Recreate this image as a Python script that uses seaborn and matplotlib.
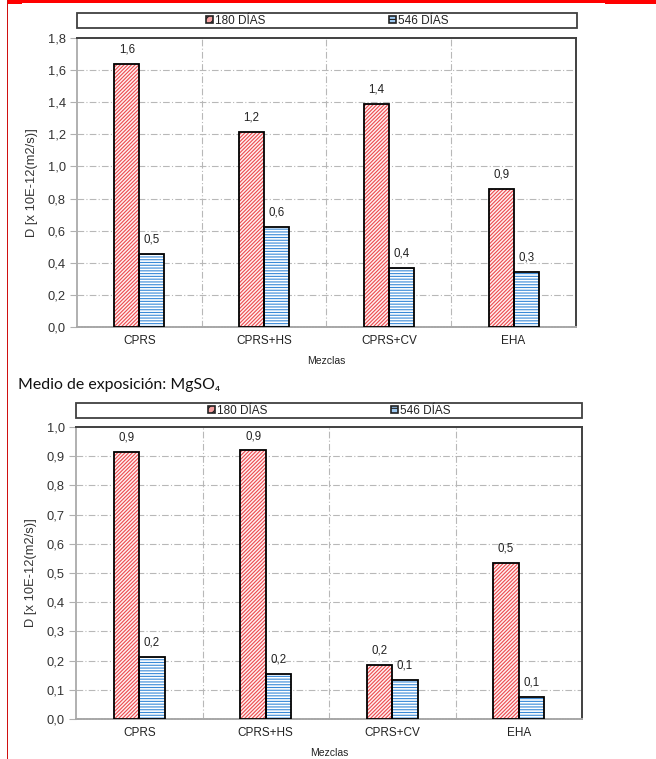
import numpy as np
import pandas as pd
import seaborn as sns
import matplotlib
matplotlib.use("Agg")
import matplotlib.pyplot as plt
from matplotlib.patches import Rectangle, Patch

# ---------------- data ----------------
mezclas = ["CPRS", "CPRS+HS", "CPRS+CV", "EHA"]
series = ["180 DÍAS", "546 DÍAS"]
top_180 = [1.64, 1.215, 1.39, 0.86]
top_546 = [0.455, 0.625, 0.37, 0.345]
bot_180 = [0.915, 0.92, 0.185, 0.535]
bot_546 = [0.212, 0.154, 0.134, 0.076]
top_yticks = [0.0, 0.2, 0.4, 0.6, 0.8, 1.0, 1.2, 1.4, 1.6, 1.8]
bot_yticks = [0.0, 0.1, 0.2, 0.3, 0.4, 0.5, 0.6, 0.7, 0.8, 0.9, 1.0]
ylabel = "D [x 10E-12(m2/s)]"
xlabel = "Mezclas"
subtitle = "Medio de exposición: MgSO₄"

sns.set_theme(style="white")
plt.rcParams["font.family"] = ["Liberation Sans", "DejaVu Sans"]
plt.rcParams["hatch.linewidth"] = 0.8

RED = "#ec4a4e"
BLUE = "#3a8ad8"
FACE = {"180 DÍAS": "#fff0f0", "546 DÍAS": "white"}
hatches = {"180 DÍAS": "/////////", "546 DÍAS": "------"}
hcolors = {"180 DÍAS": RED, "546 DÍAS": BLUE}

fig = plt.figure(figsize=(6.56, 7.59), dpi=100)
W, H = 656, 759


def ax_rect(x0, x1, ytop, ybot):
    return [x0 / W, (H - ybot) / H, (x1 - x0) / W, (ybot - ytop) / H]


def fmt(v):
    return f"{v:.1f}".replace(".", ",")


def draw(ax, v180, v546, yticks, legend_box):
    df = pd.DataFrame({
        "Mezclas": mezclas * 2,
        "Serie": [series[0]] * 4 + [series[1]] * 4,
        "D": list(v180) + list(v546),
    })
    sns.barplot(data=df, x="Mezclas", y="D", hue="Serie", order=mezclas,
                hue_order=series, width=0.4, ax=ax, legend=False,
                palette=["white", "white"], saturation=1, zorder=3)
    for cont, s in zip(ax.containers, series):
        for p in cont:
            p.set_facecolor(FACE[s])
            p.set_hatch(hatches[s])
            p.set_edgecolor(hcolors[s])
            p.set_linewidth(0)
            outline = Rectangle(p.get_xy(), p.get_width(), p.get_height(),
                                facecolor="none", edgecolor="black",
                                linewidth=1.3, zorder=4)
            ax.add_patch(outline)
        ax.bar_label(cont, labels=[fmt(v) for v in cont.datavalues],
                     padding=6, fontsize=8.3, color="#222222")
    ax.set_ylim(yticks[0], yticks[-1])
    ax.set_yticks(yticks)
    ax.set_yticklabels([fmt(t) for t in yticks])
    ax.set_xlim(-0.5, 3.5)
    ax.set_xlabel(xlabel, fontsize=7.5, color="#222222", labelpad=6)
    ax.set_ylabel(ylabel, fontsize=9.3, color="#333333", labelpad=7)
    ax.tick_params(axis="y", length=5, width=0.8, color="#b0b0b0",
                   labelsize=9.3, labelcolor="#333333", pad=3, left=True)
    ax.tick_params(axis="x", length=0, labelsize=8.5, labelcolor="#222222", pad=6)
    for t in yticks[1:-1]:
        ax.axhline(t, color="#b8b8b8", lw=0.8, ls=(0, (6, 2, 1, 2)), zorder=1)
    for xb in [0.5, 1.5, 2.5]:
        ax.axvline(xb, color="#b8b8b8", lw=0.8, ls=(0, (6, 2, 1, 2)), zorder=1)
    ax.spines["left"].set_color("#b0b0b0")
    ax.spines["left"].set_linewidth(1.4)
    ax.spines["bottom"].set_color("#a8a8a8")
    ax.spines["bottom"].set_linewidth(1.4)
    ax.spines["bottom"].set_linestyle((0, (1, 0.5)))
    for sp in ["top", "right"]:
        ax.spines[sp].set_color("#404040")
        ax.spines[sp].set_linewidth(1.4)
    # legend box
    x0, x1, y0, y1 = legend_box
    fig.patches.append(Rectangle((x0 / W, (H - y1) / H), (x1 - x0) / W, (y1 - y0) / H,
                                 transform=fig.transFigure, facecolor="white",
                                 edgecolor="#404040", linewidth=1.3))
    handles = [Patch(facecolor="#f6a0a0", hatch="////", linewidth=1.0),
               Patch(facecolor="#9cc8f0", hatch="---", linewidth=1.0)]
    for h, s in zip(handles, series):
        h.set_edgecolor(hcolors[s])
    cx = (x0 + x1) / 2 / W
    cy = (H - (y0 + y1) / 2) / H
    leg = fig.legend(handles, series, loc="center", bbox_to_anchor=(cx, cy), ncol=2,
                     frameon=False, fontsize=8.5, handlelength=0.6, handleheight=0.6,
                     handletextpad=0.15, columnspacing=10.5, borderpad=0,
                     labelcolor="#222222")
    for h in leg.legend_handles:
        h.set_linewidth(1.2)
        h.set_edgecolor("#222222")


ax1 = fig.add_axes(ax_rect(77, 576, 38, 327))
draw(ax1, top_180, top_546, top_yticks, (77, 577, 13, 28))

ax2 = fig.add_axes(ax_rect(76, 582, 427, 719))
draw(ax2, bot_180, bot_546, bot_yticks, (76, 582, 403, 418))

fig.text(18 / W, (H - 385) / H, subtitle, fontsize=11.4, ha="left", va="center",
         family=["Lato", "DejaVu Sans"], color="#111111")

# page decorations (red border pieces)
fig.patches.append(Rectangle((7 / W, (H - 3) / H), (W - 7) / W, 3 / H,
                             transform=fig.transFigure, facecolor="#ff0000",
                             edgecolor="none"))
fig.patches.append(Rectangle((7 / W, (H - 4) / H), 15 / W, 4 / H,
                             transform=fig.transFigure, facecolor="#ff0000",
                             edgecolor="none"))
fig.patches.append(Rectangle((605 / W, (H - 4) / H), 51 / W, 4 / H,
                             transform=fig.transFigure, facecolor="#ff0000",
                             edgecolor="none"))
fig.patches.append(Rectangle((7 / W, 0), 1.2 / W, 1,
                             transform=fig.transFigure, facecolor="#d01010",
                             edgecolor="none"))

fig.savefig("out.png", dpi=100)
